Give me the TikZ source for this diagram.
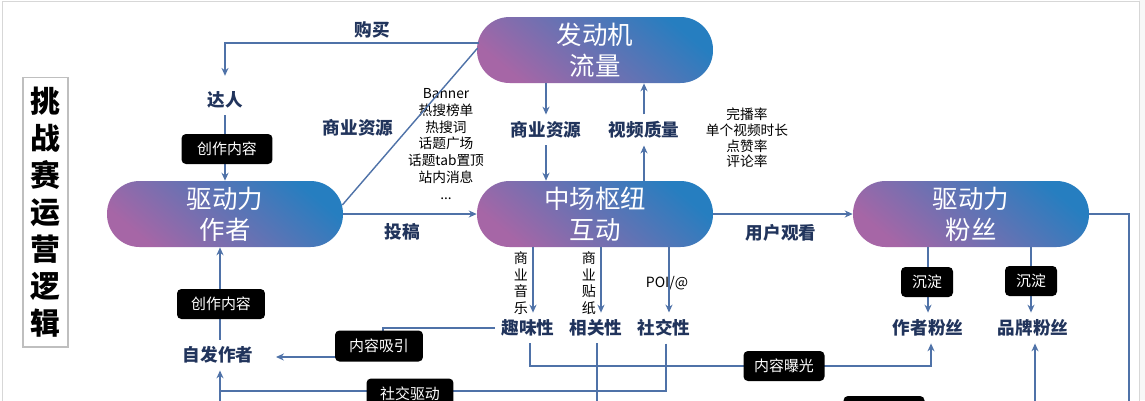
\documentclass[tikz,border=0pt]{standalone}
\usepackage{fontspec}
\setmainfont{Noto Sans CJK SC}
\usetikzlibrary{arrows.meta,calc}
\definecolor{lc}{RGB}{79,114,168}
\definecolor{navy}{RGB}{33,52,92}
\definecolor{pp}{RGB}{166,102,166}
\definecolor{pb}{RGB}{38,126,192}
\definecolor{fr}{RGB}{215,215,215}
\tikzset{
 pill/.style={rectangle, rounded corners=18.5pt, minimum width=4.72cm, minimum height=1.32cm, left color=pp, right color=pb, shading angle=140, text=white, align=center, font=\fontsize{14.5}{17.6}\selectfont, inner sep=0pt},
 lbl/.style={inner sep=0pt, outer sep=4pt, text=navy, font=\bfseries\fontsize{10}{12}\selectfont},
 small/.style={inner sep=0pt, align=center, text=black},
 blk/.style={fill=black, text=white, rounded corners=2.5pt, minimum height=0.6cm, inner sep=0pt, font=\fontsize{8.5}{10}\selectfont},
 ln/.style={draw=lc, line width=0.8pt},
 arr/.style={ln, -{Stealth[length=4.5pt,width=4pt]}},
}
\begin{document}
\begin{tikzpicture}[x=0.02cm,y=-0.02cm]
\useasboundingbox (0,0) rectangle (1145,400);
\clip (0,0) rectangle (1145,400);
\fill[white] (0,0) rectangle (1145,400);
\fill[black!3] (1139,0) rectangle (1145,400);
\draw[fr] (2,1) rectangle (1139,440);

% title
\node[draw=black!25, line width=0.6pt, minimum width=0.9cm, minimum height=5.4cm, align=center, font=\bfseries\fontsize{17}{21.1}\selectfont, inner sep=0pt] (title) at (45.5,212) {挑\\战\\赛\\运\\营\\逻\\辑};

% pills
\node[pill] (engine) at (595,50) {发动机\\流量};
\node[pill] (author) at (225,214) {驱动力\\作者};
\node[pill] (hub) at (595,214) {中场枢纽\\互动};
\node[pill] (fans) at (971,214) {驱动力\\粉丝};

% labels
\node[lbl] (buy) at (372,30) {购买};
\node[lbl] (daren) at (225,100) {达人};
\node[lbl] (res1) at (358,128) {商业资源};
\node[small, font=\fontsize{7.8}{9.6}\selectfont] (banner) at (446,144) {Banner\\热搜榜单\\热搜词\\话题广场\\话题tab置顶\\站内消息\\...};
\node[lbl] (tougao) at (402,232) {投稿};
\node[lbl] (res2) at (546,130) {商业资源};
\node[lbl] (quality) at (644,130) {视频质量};
\node[small, font=\fontsize{7.8}{8.9}\selectfont] (metrics) at (747,138) {完播率\\单个视频时长\\点赞率\\评论率};
\node[lbl] (watch) at (781,233) {用户观看};
\node[lbl] (fun) at (528,328) {趣味性};
\node[lbl] (rel) at (596,328) {相关性};
\node[lbl] (soc) at (664,328) {社交性};
\node[small, font=\fontsize{8}{9.5}\selectfont] (music) at (521,283) {商\\业\\音\\乐};
\node[small, font=\fontsize{8}{9.5}\selectfont] (sticker) at (589,283) {商\\业\\贴\\纸};
\node[small, font=\fontsize{8}{10}\selectfont] (poi) at (667,283) {POI/@};
\node[lbl] (zifa) at (218,355) {自发作者};
\node[lbl] (afans) at (928,328) {作者粉丝};
\node[lbl] (bfans) at (1033,328) {品牌粉丝};

% helper coordinates
\coordinate (xfun) at (533,0);
\coordinate (xrel) at (601,0);
\coordinate (xsoc) at (669,0);
\coordinate (xf2) at (530,0);
\coordinate (xr2) at (597,0);
\coordinate (xs2) at (666,0);
\coordinate (xa) at (220,0);
\coordinate (k1) at (383,357);
\coordinate (k2) at (220,391);
\coordinate (k3) at (931,366);
\coordinate (zbot) at (220,420);
\coordinate (relbot) at (597,420);
\coordinate (rdown) at (1129,420);
\coordinate (bbot) at (1035,420);

% connectors
\draw[arr, shorten >=5pt] ($(engine.west)+(2,-7)$) -| (daren.north);
\draw[arr] (daren.south) -- (author.north);
\draw[ln] ($(author.east)+(-1,-9)$) -- ($(engine.west)+(1,-2)$);
\draw[arr] (author.east) -- (hub.west);
\draw[arr] (engine.south -| res2) -- (res2.north);
\draw[arr] (res2.south) -- (res2 |- hub.north);
\draw[arr] (hub.north -| quality) -- (quality.south);
\draw[arr] (quality.north) -- (quality |- engine.south);
\draw[arr] (hub.east) -- (fans.west);
\draw[ln] (fans.east) -| (rdown);
\draw[arr] (fans.south -| afans) -- (afans.north);
\draw[arr] ($(fans.south -| bfans)+(-2,0)$) -- ($(bfans.north)+(-2,0)$);
\draw[arr] (bbot) -- (bbot |- bfans.south);
\draw[arr] (hub.south -| xfun) -- (xfun |- fun.north);
\draw[arr] (hub.south -| xrel) -- (xrel |- rel.north);
\draw[arr] (hub.south -| xsoc) -- (xsoc |- soc.north);
\draw[arr, shorten >=9pt] (fun.west) -| (k1) -- (k1 -| zifa.east);
\draw[arr] (xa |- zifa.north) -- (xa |- author.south);
\draw[arr] (xs2 |- soc.south) |- (k2) -- (k2 |- zifa.south);
\draw[ln] (zbot) -- (k2);
\draw[arr] (xf2 |- fun.south) |- (k3) -- (k3 |- afans.south);
\draw[ln] (xr2 |- rel.south) -- (relbot);

% black label boxes
\node[blk, minimum width=1.82cm] (c1) at (227,149) {创作内容};
\node[blk, minimum width=1.76cm] (c2) at (221,304) {创作内容};
\node[blk, minimum width=1.76cm, minimum height=0.62cm] (xiyin) at (379,346) {内容吸引};
\node[blk, minimum width=1.74cm, minimum height=0.62cm] (sheji) at (410,394) {社交驱动};
\node[blk, minimum width=1.62cm] (baoguang) at (784,366) {内容曝光};
\node[blk, minimum width=1.04cm] (cd1) at (927,282) {沉淀};
\node[blk, minimum width=1.04cm] (cd2) at (1031,281) {沉淀};
\node[blk, minimum width=1.62cm] (hidden) at (884,411) {};
\end{tikzpicture}
\end{document}
